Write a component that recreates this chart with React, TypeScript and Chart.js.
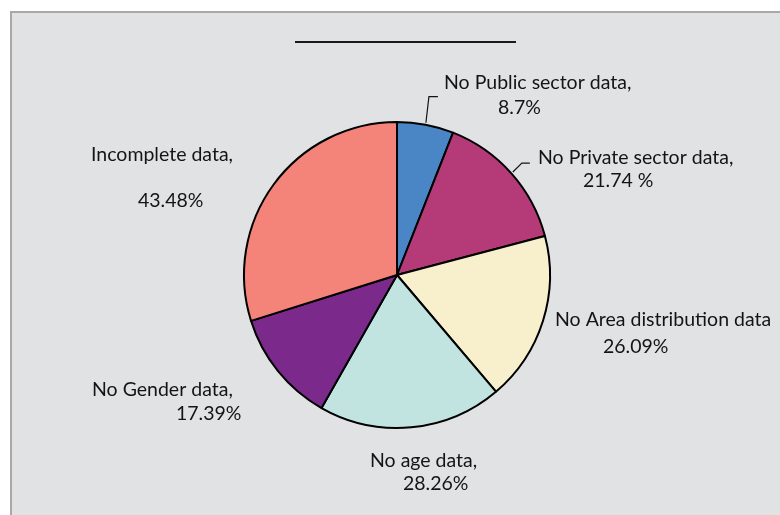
import React, { useEffect, useRef } from "react";
import { Chart, registerables } from "chart.js";

Chart.register(...registerables);

const categories = [
  "No Public sector data",
  "No Private sector data",
  "No Area distribution data",
  "No age data",
  "No Gender data",
  "Incomplete data",
];
const values = [8.7, 21.74, 26.09, 28.26, 17.39, 43.48];
const valueLabels = ["8.7%", "21.74 %", "26.09%", "28.26%", "17.39%", "43.48%"];
const firstLines = [
  "No Public sector data,",
  "No Private sector data,",
  "No Area distribution data",
  "No age data,",
  "No Gender data,",
  "Incomplete data,",
];
const colors = ["#4a86c6", "#b53a78", "#f8f0cd", "#c2e4e1", "#7b2a8c", "#f4837a"];

// label layout: [line1 x, line1 y, line2 x, line2 y] (text left edge, vertical middle)
const labelPos: number[][] = [
  [444, 83, 498, 108],
  [538, 158, 583, 181],
  [555, 320, 603, 347],
  [370, 461, 403, 484],
  [92, 390, 176, 414],
  [91, 155, 138, 201],
];
// leader lines: [elbow dx, elbow dy, end dx] relative to arc midpoint
const leaders: (number[] | null)[] = [
  [3, -26, 12],
  [9, -9, 17],
  null,
  null,
  null,
  null,
];

const framePlugin = {
  id: "frame",
  beforeDraw(chart: any) {
    const ctx = chart.ctx;
    ctx.save();
    ctx.fillStyle = "#ffffff";
    ctx.fillRect(0, 0, chart.width, chart.height);
    ctx.fillStyle = "#e1e2e4";
    ctx.fillRect(11, 12, chart.width - 11, chart.height - 12);
    ctx.strokeStyle = "#a8a8a8";
    ctx.lineWidth = 2;
    ctx.beginPath();
    ctx.moveTo(11, chart.height);
    ctx.lineTo(11, 12);
    ctx.lineTo(chart.width, 12);
    ctx.stroke();
    ctx.strokeStyle = "#1a1a1a";
    ctx.lineWidth = 2;
    ctx.beginPath();
    ctx.moveTo(295, 42);
    ctx.lineTo(516, 42);
    ctx.stroke();
    ctx.restore();
  },
  afterDatasetsDraw(chart: any) {
    const ctx = chart.ctx;
    const meta = chart.getDatasetMeta(0);
    ctx.save();
    ctx.fillStyle = "#141414";
    ctx.font = "19.5px Lato, 'Open Sans', sans-serif";
    ctx.textAlign = "left";
    ctx.textBaseline = "middle";
    meta.data.forEach((arc: any, i: number) => {
      const p = labelPos[i];
      ctx.fillText(firstLines[i], p[0], p[1]);
      ctx.fillText(valueLabels[i], p[2], p[3]);
      const l = leaders[i];
      if (l) {
        const mid = (arc.startAngle + arc.endAngle) / 2;
        const r = arc.outerRadius + 2;
        const sx = arc.x + Math.cos(mid) * r;
        const sy = arc.y + Math.sin(mid) * r;
        ctx.strokeStyle = "#141414";
        ctx.lineWidth = 1.2;
        ctx.beginPath();
        ctx.moveTo(sx, sy);
        ctx.lineTo(sx + l[0], sy + l[1]);
        ctx.lineTo(sx + l[2], sy + l[1]);
        ctx.stroke();
      }
    });
    ctx.restore();
  },
};

export default function App() {
  const ref = useRef<HTMLCanvasElement>(null);
  useEffect(() => {
    document.body.style.margin = "0";
    const chart = new Chart(ref.current!, {
      type: "pie",
      data: {
        labels: categories,
        datasets: [
          {
            data: values,
            backgroundColor: colors,
            borderColor: "#000000",
            borderWidth: 2,
            radius: 153,
          } as any,
        ],
      },
      options: {
        animation: false,
        responsive: false,
        layout: { padding: { left: 14, right: 0, top: 35, bottom: 0 } },
        plugins: {
          legend: { display: false },
          tooltip: { enabled: false },
          title: { display: false },
        },
      },
      plugins: [framePlugin],
    });
    return () => chart.destroy();
  }, []);
  return (
    <div style={{ position: "absolute", left: 0, top: 0, width: 780, height: 515 }}>
      <canvas ref={ref} width={780} height={515} style={{ width: 780, height: 515 }} />
    </div>
  );
}
